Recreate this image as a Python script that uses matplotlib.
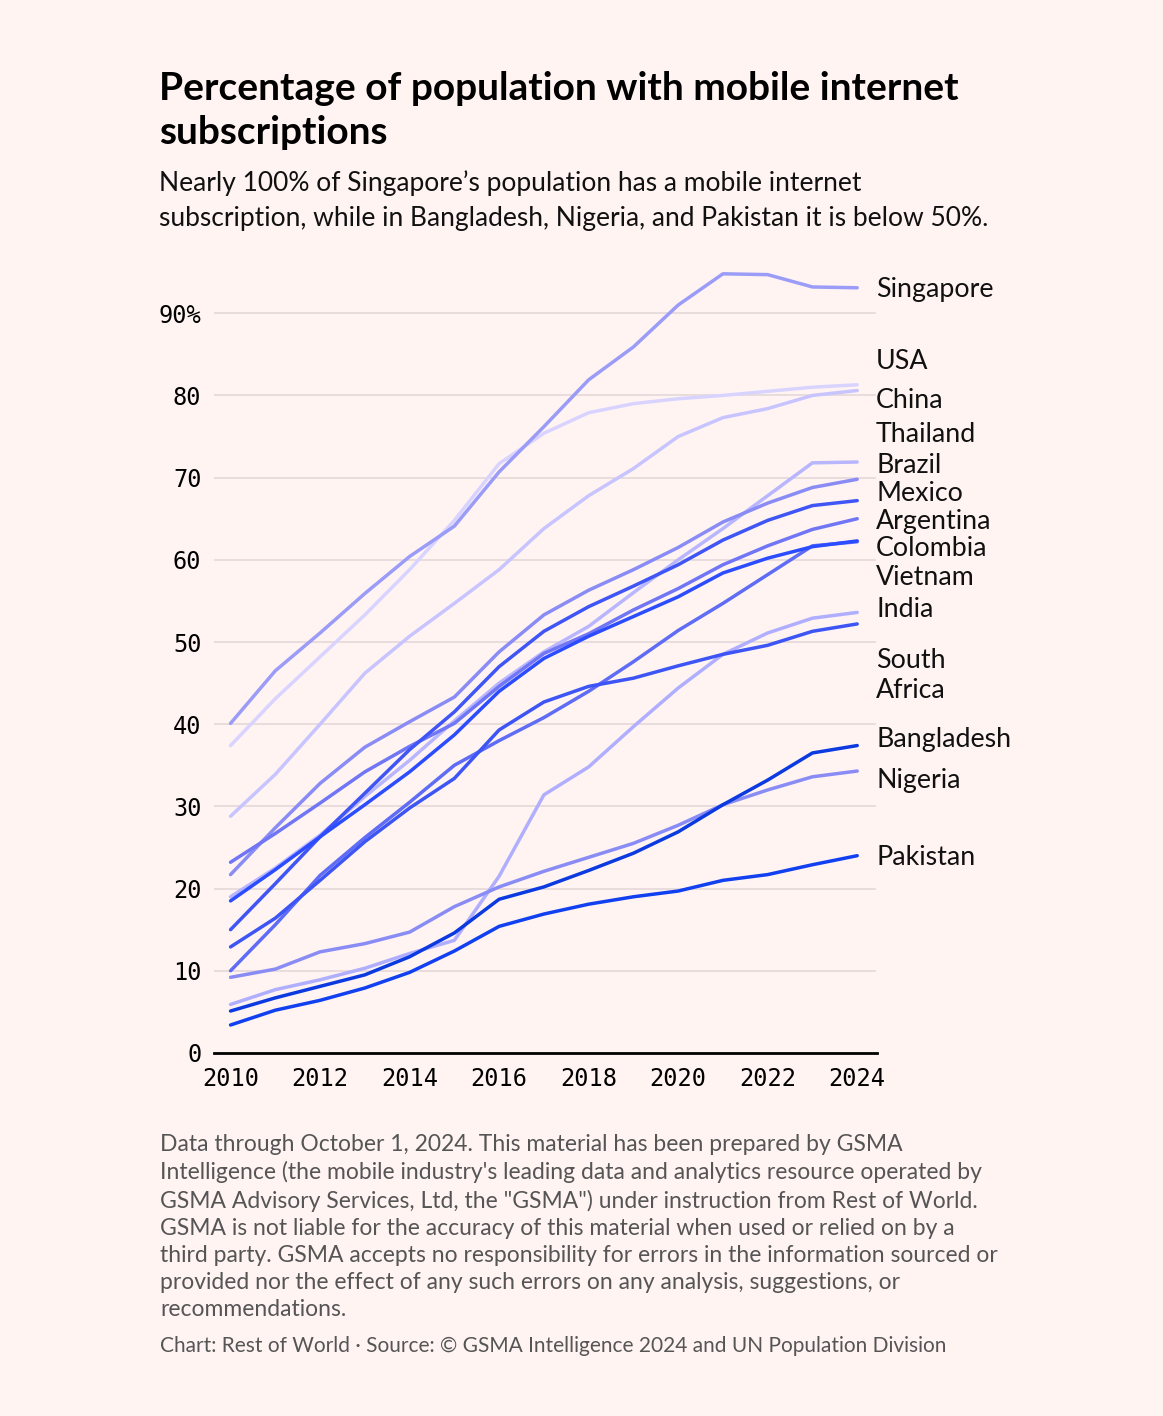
import numpy as np
import matplotlib.pyplot as plt

# --- data ---
years = list(range(2010, 2025))

countries = ['Singapore', 'USA', 'China', 'Thailand', 'Brazil', 'Mexico',
             'Argentina', 'Colombia', 'Vietnam', 'India', 'South\nAfrica',
             'Bangladesh', 'Nigeria', 'Pakistan']

singapore = [40.1, 46.5, 51.1, 55.9, 60.4, 64.1, 70.7, 76.2, 81.9, 85.9, 91.0, 94.8, 94.7, 93.2, 93.1]
usa = [37.4, 43.1, 48.2, 53.3, 58.8, 64.8, 71.7, 75.4, 77.9, 79.0, 79.6, 80.0, 80.5, 81.0, 81.3]
china = [28.8, 33.9, 40.0, 46.2, 50.7, 54.7, 58.8, 63.8, 67.8, 71.1, 75.0, 77.3, 78.4, 80.0, 80.6]
thailand = [19.0, 22.5, 26.5, 31.2, 35.6, 40.4, 45.0, 48.8, 51.9, 56.0, 60.0, 63.8, 67.8, 71.8, 71.9]
brazil = [21.7, 27.4, 32.8, 37.2, 40.3, 43.3, 48.8, 53.3, 56.3, 58.8, 61.5, 64.6, 66.9, 68.8, 69.8]
mexico = [15.0, 20.6, 26.3, 31.6, 36.9, 41.5, 47.0, 51.3, 54.3, 56.8, 59.4, 62.4, 64.8, 66.6, 67.2]
argentina = [23.2, 26.7, 30.4, 34.2, 37.3, 40.1, 44.6, 48.6, 51.0, 53.9, 56.5, 59.4, 61.7, 63.7, 65.0]
colombia = [18.5, 22.3, 26.3, 30.2, 34.2, 38.7, 44.0, 48.0, 50.7, 53.1, 55.5, 58.4, 60.2, 61.6, 62.3]
vietnam = [10.0, 15.6, 21.6, 26.2, 30.5, 35.0, 38.0, 40.8, 44.0, 47.6, 51.4, 54.7, 58.2, 61.7, 62.2]
india = [5.9, 7.7, 8.9, 10.3, 12.1, 13.7, 21.5, 31.4, 34.8, 39.7, 44.4, 48.5, 51.1, 52.9, 53.6]
south_africa = [12.9, 16.4, 21.0, 25.7, 29.8, 33.4, 39.3, 42.7, 44.6, 45.6, 47.1, 48.5, 49.6, 51.3, 52.2]
bangladesh = [5.1, 6.7, 8.1, 9.5, 11.7, 14.6, 18.7, 20.2, 22.2, 24.3, 26.9, 30.2, 33.2, 36.5, 37.4]
nigeria = [9.2, 10.2, 12.3, 13.3, 14.7, 17.8, 20.2, 22.1, 23.8, 25.5, 27.7, 30.2, 32.0, 33.6, 34.3]
pakistan = [3.4, 5.2, 6.4, 7.9, 9.8, 12.4, 15.4, 16.9, 18.1, 19.0, 19.7, 21.0, 21.7, 22.9, 24.0]

series = [singapore, usa, china, thailand, brazil, mexico, argentina,
          colombia, vietnam, india, south_africa, bangladesh, nigeria, pakistan]

colors = ['#9b9cf8', '#d9d4ff', '#c8c4ff', '#b8b6ff', '#8a8cf6', '#3f55f5',
          '#7076f5', '#2b4cff', '#5f6cf5', '#b0aeff', '#3d55f5',
          '#0b3ae0', '#8a8cf5', '#1040f0']

# label positions (dodged so they don't overlap)
label_y = [92.9, 84.1, 79.4, 75.3, 71.5, 68.1, 64.7, 61.4, 57.9, 54.0,
           45.9, 38.1, 33.2, 23.8]

yticks = [0, 10, 20, 30, 40, 50, 60, 70, 80, 90]
ytick_labels = ['0', '10', '20', '30', '40', '50', '60', '70', '80', '90%']
xticks = [2010, 2012, 2014, 2016, 2018, 2020, 2022, 2024]

BG = '#fff4f2'
SANS = ['Lato', 'DejaVu Sans']
MONO = ['DejaVu Sans Mono']

fig = plt.figure(figsize=(11.63, 14.16), dpi=100, facecolor=BG)
ax = fig.add_axes([0.184, 0.2564, 0.570, 0.563])
ax.set_facecolor(BG)

# gridlines
for v in yticks[1:]:
    ax.axhline(v, xmin=0, xmax=0.997, color='#e6dada', lw=1.3, zorder=0)

# draw lighter lines underneath the darker ones
order = [1, 2, 3, 9, 0, 4, 12, 6, 8, 5, 10, 7, 13, 11]
for i in order:
    ax.plot(years, series[i], color=colors[i], lw=2.5, solid_capstyle='round',
            solid_joinstyle='round', zorder=2)

for name, ly in zip(countries, label_y):
    ax.text(2024.42, ly, name, ha='left', va='center', fontsize=19.3,
            family=SANS, color='#111111', linespacing=1.23, clip_on=False)

ax.set_xlim(2009.63, 2024.44)
ax.set_ylim(0, 97)
ax.set_xticks(xticks)
ax.set_xticklabels([str(x) for x in xticks], family=MONO, fontsize=17)
ax.set_yticks(yticks)
ax.set_yticklabels(ytick_labels, family=MONO, fontsize=17)
ax.tick_params(axis='y', length=0, pad=9)
ax.tick_params(axis='x', length=0, pad=10)

for s in ['top', 'right', 'left']:
    ax.spines[s].set_visible(False)
ax.spines['bottom'].set_linewidth(2)
ax.spines['bottom'].set_color('#000000')

# titles
fig.text(159/1163, 1 - 110.5/1416, 'Percentage of population with mobile internet\nsubscriptions',
         ha='left', va='center', fontsize=28, fontweight='bold', family=SANS,
         color='#000000', linespacing=1.34)
fig.text(159/1163, 1 - 200.5/1416,
         'Nearly 100% of Singapore\u2019s population has a mobile internet\n'
         'subscription, while in Bangladesh, Nigeria, and Pakistan it is below 50%.',
         ha='left', va='center', fontsize=19, family=SANS, color='#111111',
         linespacing=1.47)

footer = ("Data through October 1, 2024. This material has been prepared by GSMA\n"
          "Intelligence (the mobile industry's leading data and analytics resource operated by\n"
          "GSMA Advisory Services, Ltd, the \"GSMA\") under instruction from Rest of World.\n"
          "GSMA is not liable for the accuracy of this material when used or relied on by a\n"
          "third party. GSMA accepts no responsibility for errors in the information sourced or\n"
          "provided nor the effect of any such errors on any analysis, suggestions, or\n"
          "recommendations.")
fig.text(160/1163, 1 - 1227/1416, footer, ha='left', va='center', fontsize=16.5,
         family=SANS, color='#555555', linespacing=1.36)
fig.text(160/1163, 1 - 1346/1416,
         'Chart: Rest of World \u00b7 Source: \u00a9 GSMA Intelligence 2024 and UN Population Division',
         ha='left', va='center', fontsize=15, family=SANS, color='#555555')

fig.savefig('out.png', dpi=100, facecolor=BG)
